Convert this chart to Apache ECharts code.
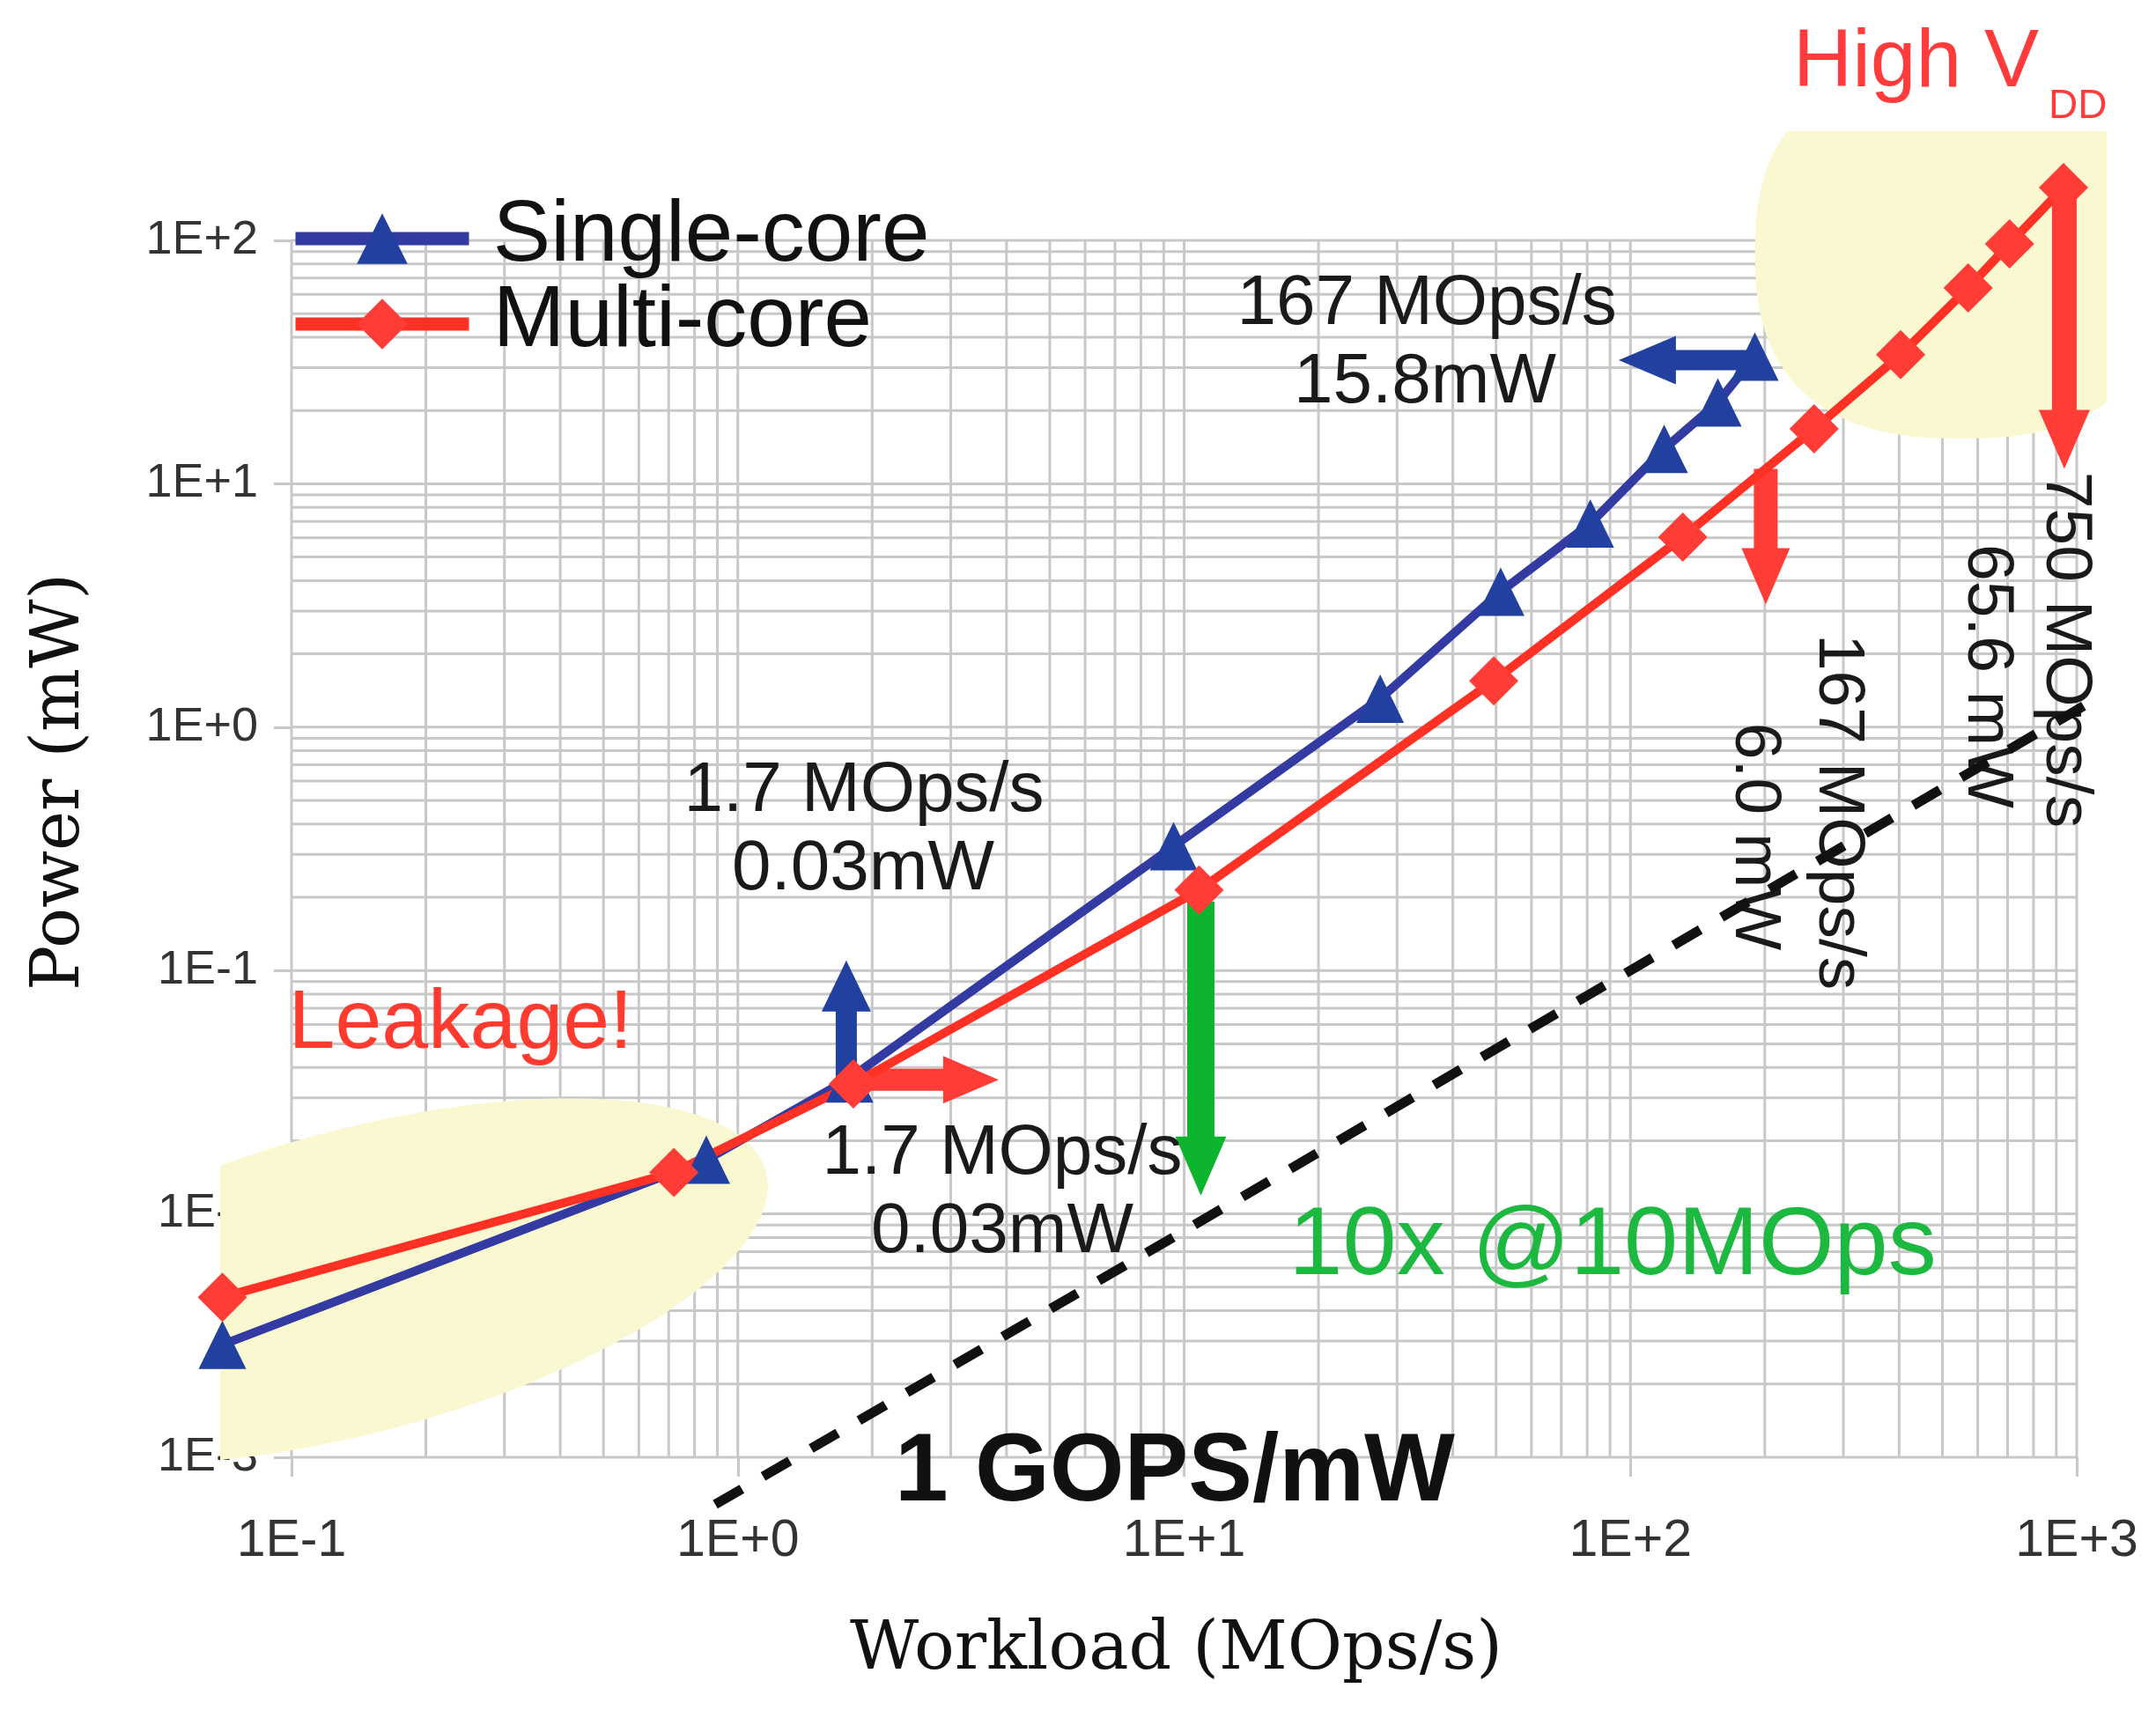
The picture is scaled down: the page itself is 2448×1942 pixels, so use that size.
<!DOCTYPE html>
<html>
<head>
<meta charset="utf-8">
<script src="https://cdn.jsdelivr.net/npm/echarts@6/dist/echarts.min.js"></script>
<style>
html,body{margin:0;padding:0;background:#fff;}
#chart{width:2448px;height:1942px;}
</style>
</head>
<body>
<div id="chart"></div>
<script>
// ---------- data ----------
const xTickLabels = ['1E-1', '1E+0', '1E+1', '1E+2', '1E+3'];
const yTickLabels = ['1E-3', '1E-2', '1E-1', '1E+0', '1E+1', '1E+2'];

const singleX = [0.070, 0.85, 1.78, 9.47, 27.5, 51.2, 81.3, 119, 157, 190];
const singleY = [0.0029, 0.0167, 0.036, 0.324, 1.31, 3.6, 6.87, 13.9, 21.6, 33.3];

const multiX = [0.070, 0.719, 1.815, 10.8, 49.4, 131, 258, 403, 571, 707, 934];
const multiY = [0.00455, 0.0148, 0.0342, 0.214, 1.55, 6.04, 16.8, 33.9, 63.8, 96.7, 165];

// 1 GOPS/mW reference line
const gopsX = [0.89, 1114];
const gopsY = [0.00064, 1.32];

// annotation arrows (tail -> tip) in data units
const arrowFromX = [1.75, 1.75, 10.9, 201, 938, 184];
const arrowFromY = [0.034, 0.0356, 0.192, 11.5, 165, 32.2];
const arrowToX = [1.75, 3.84, 10.9, 201, 938, 94.1];
const arrowToY = [0.11, 0.0356, 0.0119, 3.19, 11.5, 32.2];

// highlight regions (centre in data units, clip limits in data units)
const blobCenterX = [0.1406, 551];
const blobCenterY = [0.0053, 89.0];
const blobClipXMin = [0.0692, null];
const blobClipXMax = [null, 1167];
const blobClipYMax = [null, 281];

// annotation texts and their anchors in data units
const noteText = ['1.7 MOps/s', '0.03mW', '1.7 MOps/s', '0.03mW', '167 MOps/s', '15.8mW',
  'Leakage!', 'High V', 'DD', '10x @10MOps', '1 GOPS/mW',
  '750 MOps/s', '65.6 mW', '167 MOps/s', '6.0 mW'];
const noteX = [1.918, 1.909, 3.913, 3.913, 34.98, 34.65, 0.2393, 231.5, 864.7, 91.2, 9.535,
  942.6, 629.0, 291.9, 189.6];
const noteY = [0.5435, 0.2589, 0.01756, 0.00837, 54.4, 25.85, 0.05976, 533.6, 354.6, 0.00726, 0.000857,
  2.078, 1.619, 0.4485, 0.3553];

// ---------- styles ----------
const BLUE_LINE = '#333BA3', BLUE = '#2140A0';
const RED_LINE = '#FF3024', RED = '#FF3D36';
const GREEN = '#0DB52F';
const YELLOW = '#FAF8D0';
const GRID = '#C8C8C8';
const SANS = 'Liberation Sans, Arial, sans-serif';
const SERIF = 'DejaVu Serif, serif';

const arrowStyle = [
  {color: BLUE, shaft: 24, headW: 56, headL: 58},
  {color: RED, shaft: 25, headW: 54, headL: 63},
  {color: GREEN, shaft: 31, headW: 58, headL: 67},
  {color: RED, shaft: 27, headW: 55, headL: 64},
  {color: RED, shaft: 28, headW: 58, headL: 67},
  {color: BLUE, shaft: 23, headW: 55, headL: 65}
];
const blobStyle = [
  {a: 480, b: 172, angle: 15, n: 2},
  {a: 234, b: 211, angle: 0, n: 2.5}
];
const T = '#1a1a1a';
const noteStyle = [
  {size: 80, color: T}, {size: 80, color: T}, {size: 80, color: T}, {size: 80, color: T},
  {size: 80, color: T}, {size: 80, color: T},
  {size: 95, color: '#FF3B30'},
  {size: 93, color: '#FF3B3B', align: 'left'},
  {size: 46, color: '#FF3B3B', align: 'left'},
  {size: 110, color: '#1DB83F'},
  {size: 109, color: '#111', weight: 'bold'},
  {size: 75, color: T, rot: -Math.PI / 2}, {size: 75, color: T, rot: -Math.PI / 2},
  {size: 75, color: T, rot: -Math.PI / 2}, {size: 75, color: T, rot: -Math.PI / 2}
];
const lineStyles = {
  single: {stroke: BLUE_LINE, lineWidth: 10, lineCap: 'round'},
  multi: {stroke: RED_LINE, lineWidth: 10, lineCap: 'round'},
  gops: {stroke: '#111', lineWidth: 11, lineDash: [35, 28], lineCap: 'butt'}
};

// gridline positions (1..9 x 10^k)
const xGridVals = [], yGridVals = [];
for (let e = -1; e < 3; e++) for (let k = 1; k < 10; k++) xGridVals.push(k * Math.pow(10, e));
xGridVals.push(1000);
for (let e = -3; e < 2; e++) for (let k = 1; k < 10; k++) yGridVals.push(k * Math.pow(10, e));
yGridVals.push(100);

const zip = (a, b) => a.map((v, i) => [v, b[i]]);
const segments = (xs, ys) => xs.slice(1).map((x, i) => [xs[i], ys[i], x, ys[i + 1]]);

const chart = echarts.init(document.getElementById('chart'));

function renderGridV(params, api) {
  const cs = params.coordSys;
  const x = api.coord([api.value(0), 1])[0];
  return {type: 'line', shape: {x1: x, y1: cs.y, x2: x, y2: cs.y + cs.height},
    style: {stroke: GRID, lineWidth: 3}};
}
function renderGridH(params, api) {
  const cs = params.coordSys;
  const y = api.coord([1, api.value(1)])[1];
  return {type: 'line', shape: {x1: cs.x, y1: y, x2: cs.x + cs.width, y2: y},
    style: {stroke: GRID, lineWidth: 3}};
}
function renderBlob(params, api) {
  const i = params.dataIndex;
  const s = blobStyle[i];
  const c = api.coord([api.value(0), api.value(1)]);
  const th = s.angle * Math.PI / 180;
  const ux = Math.cos(th), uy = -Math.sin(th), vx = Math.sin(th), vy = Math.cos(th);
  const xMin = blobClipXMin[i] != null ? api.coord([blobClipXMin[i], 1])[0] : -Infinity;
  const xMax = blobClipXMax[i] != null ? api.coord([blobClipXMax[i], 1])[0] : Infinity;
  const yMin = blobClipYMax[i] != null ? api.coord([1, blobClipYMax[i]])[1] : -Infinity;
  const pts = [];
  const N = 180, p = 2 / s.n;
  for (let k = 0; k < N; k++) {
    const t = 2 * Math.PI * k / N;
    const ct = Math.cos(t), st = Math.sin(t);
    const ex = s.a * Math.sign(ct) * Math.pow(Math.abs(ct), p);
    const ey = s.b * Math.sign(st) * Math.pow(Math.abs(st), p);
    let px = c[0] + ex * ux + ey * vx;
    let py = c[1] + ex * uy + ey * vy;
    px = Math.min(Math.max(px, xMin), xMax);
    py = Math.max(py, yMin);
    pts.push([px, py]);
  }
  return {type: 'polygon', shape: {points: pts}, style: {fill: YELLOW}};
}
function renderArrow(params, api) {
  const s = arrowStyle[params.dataIndex];
  const p1 = api.coord([api.value(0), api.value(1)]);
  const p2 = api.coord([api.value(2), api.value(3)]);
  let dx = p2[0] - p1[0], dy = p2[1] - p1[1];
  const len = Math.sqrt(dx * dx + dy * dy);
  dx /= len; dy /= len;
  const nx = -dy, ny = dx;
  const bx = p2[0] - dx * s.headL, by = p2[1] - dy * s.headL;
  const hs = s.shaft / 2, hh = s.headW / 2;
  const pts = [
    [p1[0] + nx * hs, p1[1] + ny * hs],
    [bx + nx * hs, by + ny * hs],
    [bx + nx * hh, by + ny * hh],
    [p2[0], p2[1]],
    [bx - nx * hh, by - ny * hh],
    [bx - nx * hs, by - ny * hs],
    [p1[0] - nx * hs, p1[1] - ny * hs]
  ];
  return {type: 'polygon', shape: {points: pts}, style: {fill: s.color}};
}
function makeSegRenderer(style) {
  return function (params, api) {
    const p1 = api.coord([api.value(0), api.value(1)]);
    const p2 = api.coord([api.value(2), api.value(3)]);
    return {type: 'line', shape: {x1: p1[0], y1: p1[1], x2: p2[0], y2: p2[1]}, style: style};
  };
}
function renderNote(params, api) {
  const i = params.dataIndex;
  const s = noteStyle[i];
  const p = api.coord([api.value(0), api.value(1)]);
  return {
    type: 'text', x: p[0], y: p[1], rotation: s.rot || 0,
    style: {
      text: noteText[i], fill: s.color, fontSize: s.size, fontFamily: SANS,
      fontWeight: s.weight || 'normal', align: s.align || 'center', verticalAlign: 'middle'
    }
  };
}

const option = {
  animation: false,
  backgroundColor: '#ffffff',
  grid: {left: 331, top: 273, width: 2027, height: 1382, containLabel: false, outerBoundsMode: 'none'},
  legend: {
    data: ['Single-core', 'Multi-core'],
    orient: 'vertical', left: 323, top: 215,
    itemWidth: 197, itemHeight: 72, itemGap: -1, z: 6,
    lineStyle: {width: 15, opacity: 1},
    formatter: name => '{s| }{t|' + name + '}',
    textStyle: {
      padding: [0, 0, 0, 22],
      rich: {
        s: {fontSize: 1, lineHeight: 102},
        t: {fontSize: 98, lineHeight: 98, fontFamily: SANS, color: '#111', verticalAlign: 'top'}
      }
    }
  },
  xAxis: {
    type: 'log', logBase: 10, min: 0.1, max: 1000,
    name: 'Workload (MOps/s)', nameLocation: 'middle', nameGap: 182, nameMoveOverlap: false,
    nameTextStyle: {fontFamily: SERIF, fontSize: 76, color: '#111', padding: [0, 18, 0, 0]},
    axisLine: {show: false},
    axisTick: {show: true, length: 22, lineStyle: {color: GRID, width: 3}},
    axisLabel: {
      margin: 66, fontSize: 59, fontFamily: SANS, color: '#333',
      formatter: v => xTickLabels[Math.round(Math.log10(v)) + 1]
    },
    splitLine: {show: false}
  },
  yAxis: {
    type: 'log', logBase: 10, min: 0.001, max: 100,
    name: 'Power (mW)', nameLocation: 'middle', nameGap: 224, nameRotate: 90, nameMoveOverlap: false,
    nameTextStyle: {fontFamily: SERIF, fontSize: 76, color: '#111', padding: [0, 0, 0, 152]},
    axisLine: {show: false},
    axisTick: {show: true, length: 20, lineStyle: {color: GRID, width: 3}},
    axisLabel: {
      margin: 38, fontSize: 54, fontFamily: SANS, color: '#333',
      formatter: v => yTickLabels[Math.round(Math.log10(v)) + 3]
    },
    splitLine: {show: false}
  },
  series: [
    {type: 'custom', name: 'gridV', z: 1, silent: true, clip: false,
      data: xGridVals.map(v => [v, 1]), renderItem: renderGridV},
    {type: 'custom', name: 'gridH', z: 1, silent: true, clip: false,
      data: yGridVals.map(v => [1, v]), renderItem: renderGridH},
    {type: 'custom', name: 'regions', z: 2, silent: true, clip: false,
      data: zip(blobCenterX, blobCenterY), renderItem: renderBlob},
    {type: 'custom', name: 'arrows', z: 3, silent: true, clip: false,
      encode: {x: [0, 2], y: [1, 3]},
      data: arrowFromX.map((v, i) => [v, arrowFromY[i], arrowToX[i], arrowToY[i]]),
      renderItem: renderArrow},
    {type: 'custom', name: 'single-line', z: 4, silent: true, clip: false,
      encode: {x: [0, 2], y: [1, 3]},
      data: segments(singleX, singleY), renderItem: makeSegRenderer(lineStyles.single)},
    {type: 'line', name: 'Single-core', z: 4, clip: false,
      data: zip(singleX, singleY),
      symbol: 'triangle', symbolSize: [54, 55],
      lineStyle: {color: BLUE_LINE, width: 10, opacity: 0},
      itemStyle: {color: BLUE}},
    {type: 'custom', name: 'multi-line', z: 4, silent: true, clip: false,
      encode: {x: [0, 2], y: [1, 3]},
      data: segments(multiX, multiY), renderItem: makeSegRenderer(lineStyles.multi)},
    {type: 'line', name: 'Multi-core', z: 4, clip: false,
      data: zip(multiX, multiY),
      symbol: 'diamond', symbolSize: [56, 56],
      lineStyle: {color: RED_LINE, width: 10, opacity: 0},
      itemStyle: {color: RED}},
    {type: 'custom', name: 'notes', z: 5, silent: true, clip: false,
      data: noteX.map((v, i) => [v, noteY[i]]), renderItem: renderNote},
    {type: 'custom', name: '1 GOPS/mW', z: 5, silent: true, clip: false,
      encode: {x: [0, 2], y: [1, 3]},
      data: segments(gopsX, gopsY), renderItem: makeSegRenderer(lineStyles.gops)}
  ]
};
chart.setOption(option);
</script>
</body>
</html>
